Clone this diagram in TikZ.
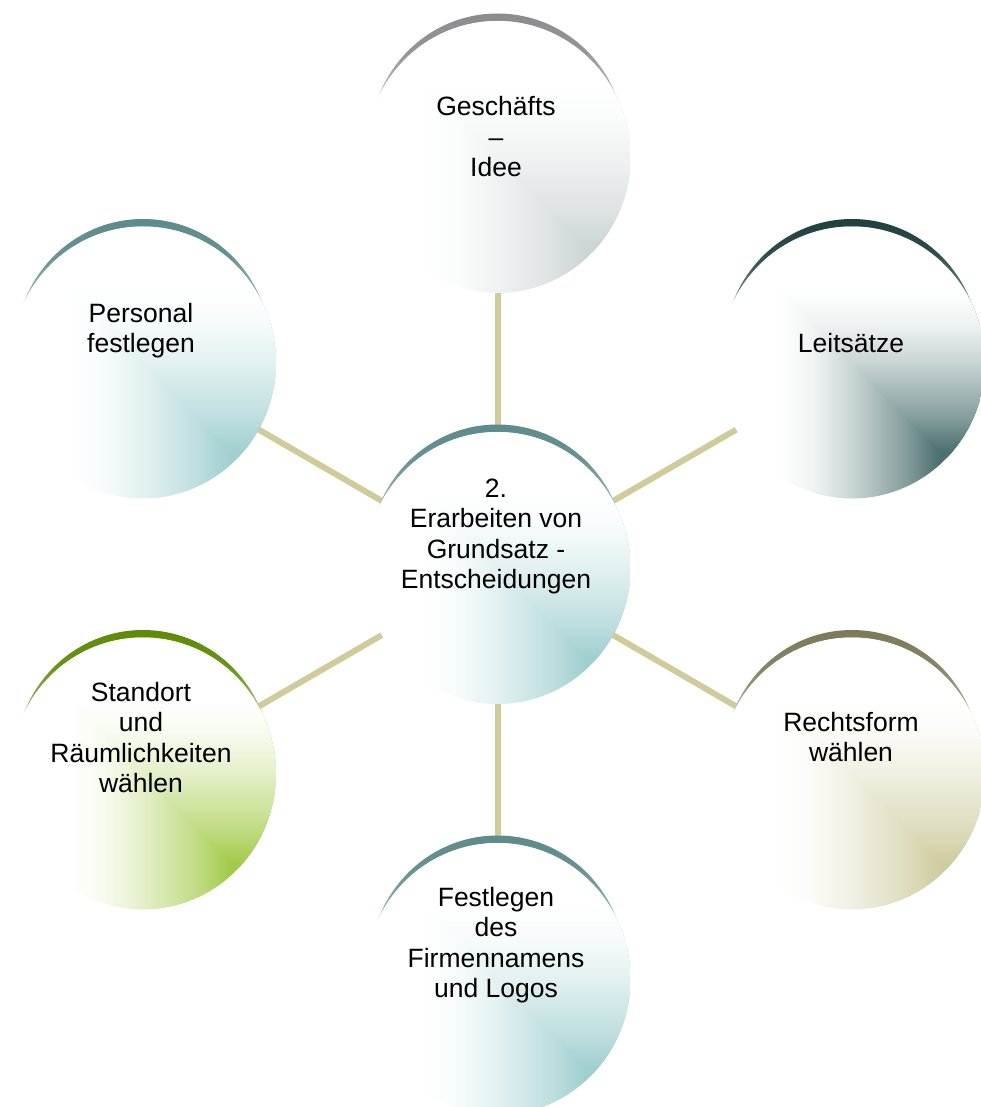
\documentclass[tikz,border=0pt]{standalone}
\usepackage{fontspec}
\setmainfont{Liberation Sans}
\usetikzlibrary{shapes.geometric}
\pgfdeclarelayer{bg}
\pgfdeclarelayer{rim}
\pgfsetlayers{bg,rim,main}

\definecolor{tealF}{HTML}{A1CFD0} \definecolor{tealR}{HTML}{5D8A8A}
\definecolor{grayF}{HTML}{CDD5D5} \definecolor{grayR}{HTML}{8A8D8D}
\definecolor{slateF}{HTML}{4D7070} \definecolor{slateR}{HTML}{203F3F}
\definecolor{khakiF}{HTML}{CFCCA0} \definecolor{khakiR}{HTML}{7C7A5A}
\definecolor{greenF}{HTML}{A3CB4A} \definecolor{greenR}{HTML}{5E8A08}
\definecolor{connC}{HTML}{CFCB9B}

\newcommand\makebubbleshading[3]{%
 \pgfdeclarehorizontalshading{#1H}{100bp}{color(0bp)=(white); color(36.25bp)=(white); color(42.5bp)=(#2!8!white); color(50bp)=(#2!30!white); color(60bp)=(#2!68!white); color(66.25bp)=(#2); color(100bp)=(#2)}%
 \pgfdeclareverticalshading{#1V}{100bp}{color(0bp)=(#2); color(33.75bp)=(#2); color(40bp)=(#2!68!white); color(50bp)=(#2!30!white); color(57.5bp)=(#2!8!white); color(63.75bp)=(white); color(100bp)=(white)}%
 \pgfdeclareverticalshading{#1Rim}{100bp}{color(0bp)=(#3!55!white); color(59bp)=(#3!60!white); color(68bp)=(#3!92!white); color(75bp)=(#3); color(100bp)=(#3)}%
}
\makebubbleshading{teal}{tealF}{tealR}
\makebubbleshading{gray}{grayF}{grayR}
\makebubbleshading{slate}{slateF}{slateR}
\makebubbleshading{khaki}{khakiF}{khakiR}
\makebubbleshading{green}{greenF}{greenR}

\newcommand\rimfill[2]{\shade[shading=#2Rim] ([yshift=12.8pt]#1.center) ellipse [x radius=127.8pt, y radius=130.7pt];}

\tikzset{
 bubble/.style={ellipse, minimum width=266pt, minimum height=272pt, inner sep=0pt, outer sep=0pt,
   path picture={
     \shade[shading=#1H] (path picture bounding box.south west) rectangle (path picture bounding box.north east);
     \begin{scope}
       \clip (path picture bounding box.north west) -- (path picture bounding box.south east) -- (path picture bounding box.north east) -- cycle;
       \shade[shading=#1V] (path picture bounding box.south west) rectangle (path picture bounding box.north east);
     \end{scope}
   }},
 lbl/.style={align=center, font=\fontsize{26.5}{30.5}\selectfont, inner sep=0pt, anchor=base},
 conn/.style={draw=connC, line width=6pt},
}

\begin{document}
\begin{tikzpicture}[x=1pt, y=-1pt]
\useasboundingbox (0,0) rectangle (980,1107);

\node[bubble=teal]  (c0) at (497.5,568)   {};
\node[bubble=gray]  (c1) at (497.5,157)   {};
\node[bubble=slate] (c2) at (852,362.5) {};
\node[bubble=khaki] (c3) at (852,773.5) {};
\node[bubble=teal]  (c4) at (497.5,979)   {};
\node[bubble=green] (c5) at (143,773.5) {};
\node[bubble=teal]  (c6) at (143,362.5) {};

\begin{pgfonlayer}{rim}
 \rimfill{c0}{teal}
 \rimfill{c1}{gray}
 \rimfill{c2}{slate}
 \rimfill{c3}{khaki}
 \rimfill{c4}{teal}
 \rimfill{c5}{green}
 \rimfill{c6}{teal}
\end{pgfonlayer}

\begin{pgfonlayer}{bg}
 \foreach \t in {c1,c2,c3,c4,c5,c6} { \draw[conn] (c0.center) -- (\t.center); }
\end{pgfonlayer}

% anchor=base of a multi-line node is the baseline of its last line
\node[lbl] (t0) at (496,588.5) {2.\\Erarbeiten von\\Grundsatz -\\Entscheidungen};
\node[lbl] (t1) at (496,177)   {Geschäfts\\–\\Idee};
\node[lbl] (t2) at (851,352)   {Leitsätze};
\node[lbl] (t3) at (851,761.5) {Rechtsform\\wählen};
\node[lbl] (t4) at (496,997.5) {Festlegen\\des\\Firmennamens\\und Logos};
\node[lbl] (t5) at (141,792.5) {Standort\\und\\Räumlichkeiten\\wählen};
\node[lbl] (t6) at (141,352.5) {Personal\\festlegen};
\end{tikzpicture}
\end{document}
